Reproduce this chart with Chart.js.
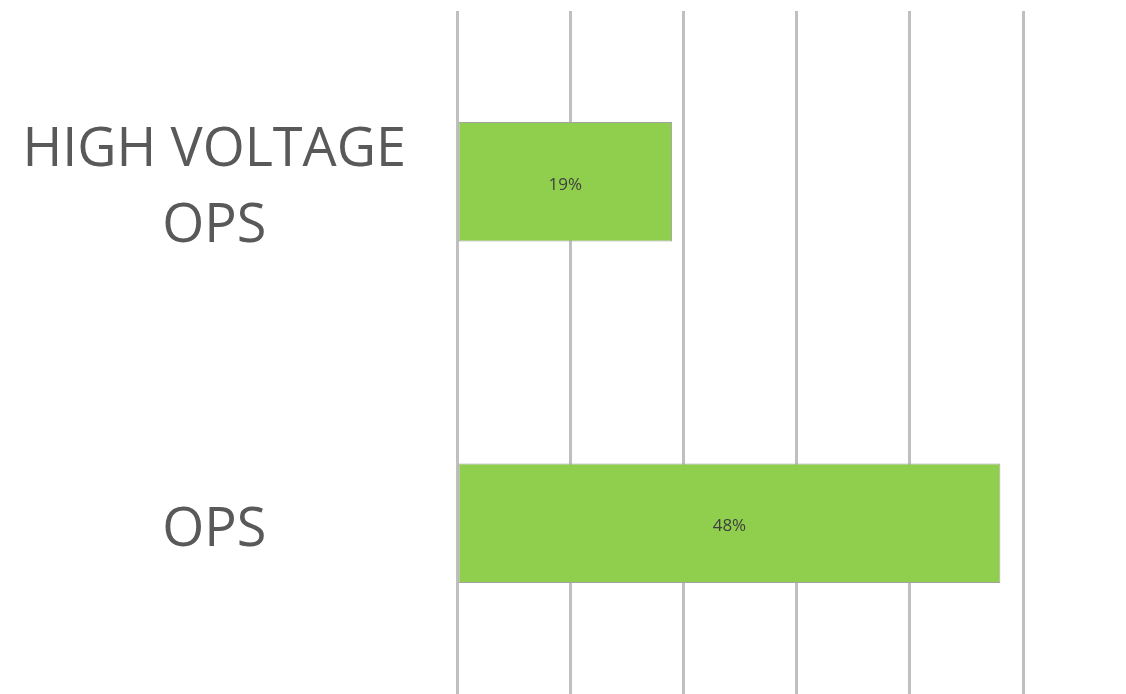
<!DOCTYPE html>
<html>
<head>
<meta charset="utf-8">
<script src="https://cdn.jsdelivr.net/npm/chart.js@4.4.1/dist/chart.umd.min.js"></script>
<style>
  html, body { margin: 0; padding: 0; background: #fff; }
  #wrap { width: 1126px; height: 694px; }
</style>
</head>
<body>
<div id="wrap"><canvas id="opsChart"></canvas></div>
<script>
// Share by team
const teams = [['HIGH VOLTAGE', 'OPS'], 'OPS'];
const shares = [19, 48];
const shareTicks = [0, 10, 20, 30, 40, 50];

// percentage written in the middle of each bar
const barValueLabels = {
    id: 'barValueLabels',
    afterDatasetsDraw(chart) {
        const ctx = chart.ctx;
        ctx.save();
        ctx.font = '17px "Open Sans", sans-serif';
        ctx.fillStyle = '#3f3f3f';
        ctx.textAlign = 'center';
        ctx.textBaseline = 'middle';
        chart.getDatasetMeta(0).data.forEach((bar, i) => {
            const mid = (bar.x + bar.base) / 2;
            ctx.fillText(shares[i] + '%', mid, bar.y + 3);
        });
        ctx.restore();
    }
};

function initOpsChart() {
    const ctx = document.getElementById('opsChart').getContext('2d');
    new Chart(ctx, {
        type: 'bar',
        data: {
            labels: teams,
            datasets: [{
                data: shares,
                backgroundColor: '#90cf4e',
                borderColor: '#a3a3a3',
                borderWidth: 1,
                borderSkipped: false,
                categoryPercentage: 1,
                barPercentage: 0.35
            }]
        },
        options: {
            indexAxis: 'y',
            responsive: true,
            maintainAspectRatio: false,
            animation: false,
            layout: { padding: { top: 11, right: 103, bottom: 0, left: 0 } },
            plugins: {
                legend: { display: false },
                tooltip: { enabled: false }
            },
            scales: {
                x: {
                    min: 0,
                    max: 50,
                    afterBuildTicks: (scale) => {
                        scale.ticks = shareTicks.map(v => ({ value: v }));
                    },
                    ticks: { display: false },
                    border: { display: false },
                    grid: { color: '#bfbfbf', lineWidth: 3, drawTicks: false }
                },
                y: {
                    grid: { display: false, drawTicks: false },
                    border: { display: false },
                    afterFit: (scale) => {
                        // big labels would otherwise push the plot inward
                        scale.width = 457;
                        scale.paddingTop = 0;
                        scale.paddingBottom = 0;
                    },
                    ticks: {
                        crossAlign: 'center',
                        padding: 51,
                        labelOffset: 7,
                        color: '#595959',
                        font: { family: '"Open Sans"', size: 54, weight: 500, lineHeight: 1.4 }
                    }
                }
            }
        },
        plugins: [barValueLabels]
    });
}

document.addEventListener('DOMContentLoaded', () => {
    initOpsChart();
});
</script>
</body>
</html>
